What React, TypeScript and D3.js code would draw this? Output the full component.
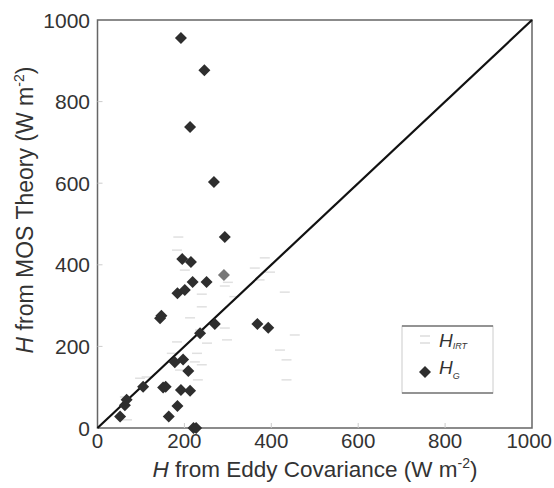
import React from "react";
import * as d3 from "d3";

const ticks = [0, 200, 400, 600, 800, 1000];

// H_G (diamonds): [eddy covariance, MOS theory]
const hgX = [192, 246, 213, 268, 293, 195, 215, 219, 251, 184, 201, 144, 147, 236, 270, 368, 393, 178, 197, 209, 151, 157, 192, 213, 184, 164, 221, 227, 52, 63, 67, 105];
const hgY = [956, 877, 738, 603, 468, 414, 407, 358, 358, 330, 338, 269, 275, 232, 255, 255, 246, 161, 168, 140, 99, 101, 93, 91, 54, 28, 0, 0, 28, 56, 69, 101];
// highlighted (gray) H_G point
const hgGrayX = [291];
const hgGrayY = [375];

// H_IRT (faint dashes)
const irtX = [186, 183, 201, 240, 240, 213, 293, 385, 362, 397, 373, 431, 236, 293, 298, 252, 183, 171, 229, 224, 240, 190, 231, 113, 98, 63, 68, 454, 435, 435, 420, 300, 315];
const irtY = [468, 436, 387, 328, 297, 270, 348, 417, 392, 382, 363, 333, 240, 245, 216, 208, 211, 183, 183, 162, 155, 142, 118, 125, 122, 76, 20, 228, 167, 118, 191, 357, 322];

const W = 554;
const H = 488;
const L = 97.5, R = 532, T = 20, B = 428;

export default function App() {
  const x = d3.scaleLinear().domain([0, 1000]).range([L, R]);
  const y = d3.scaleLinear().domain([0, 1000]).range([B, T]);
  const diamond = (cx: number, cy: number, s = 6) =>
    `M${cx},${cy - s}L${cx + s},${cy}L${cx},${cy + s}L${cx - s},${cy}Z`;
  const font = "Liberation Sans, Arial, sans-serif";

  return (
    <svg width={W} height={H} style={{ position: "absolute", left: 0, top: 0, background: "#fff" }}>
      <rect x={0} y={0} width={W} height={H} fill="#fff" />
      {/* H_IRT faint dashes */}
      {irtX.map((v, i) => (
        <line key={"i" + i} x1={x(v) - 5} x2={x(v) + 5} y1={y(irtY[i])} y2={y(irtY[i])} stroke="#e0e0e0" strokeWidth={1.5} />
      ))}
      {/* axes box */}
      <path d={`M${L},${T}L${R},${T}L${R},${B}L${L},${B}Z`} fill="none" stroke="#666" strokeWidth={1.5} />
      {/* inner ticks */}
      {ticks.slice(1, -1).map((t) => (
        <g key={"t" + t}>
          <line x1={L} x2={L + 5} y1={y(t)} y2={y(t)} stroke="#ccc" strokeWidth={1} />
          <line x1={x(t)} x2={x(t)} y1={B} y2={B - 5} stroke="#ccc" strokeWidth={1} />
        </g>
      ))}
      {/* 1:1 line */}
      <line x1={x(0)} y1={y(0)} x2={x(1000)} y2={y(1000)} stroke="#111" strokeWidth={2.2} />
      {/* H_G diamonds */}
      {hgX.map((v, i) => (
        <path key={"g" + i} d={diamond(x(v), y(hgY[i]))} fill="#2e2e2e" />
      ))}
      {hgGrayX.map((v, i) => (
        <path key={"gg" + i} d={diamond(x(v), y(hgGrayY[i]))} fill="#777" />
      ))}
      {/* tick labels */}
      {ticks.map((t) => (
        <text key={"yl" + t} x={90} y={y(t) + 7.5} textAnchor="end" fontFamily={font} fontSize={21} fill="#333">
          {t}
        </text>
      ))}
      {ticks.map((t) => (
        <text key={"xl" + t} x={t === 1000 ? 552 : x(t)} y={448} textAnchor={t === 1000 ? "end" : "middle"} fontFamily={font} fontSize={20.5} fill="#333">
          {t}
        </text>
      ))}
      {/* axis titles */}
      <text x={315} y={477} textAnchor="middle" fontFamily={font} fontSize={22.5} fill="#333">
        <tspan fontStyle="italic">H</tspan> from Eddy Covariance (W m
        <tspan dy={-9} fontSize={14}>-2</tspan>
        <tspan dy={9}>)</tspan>
      </text>
      <text transform={`translate(33,210) rotate(-90)`} textAnchor="middle" fontFamily={font} fontSize={23} fill="#333">
        <tspan fontStyle="italic">H</tspan> from MOS Theory (W m
        <tspan dy={-9} fontSize={14}>-2</tspan>
        <tspan dy={9}>)</tspan>
      </text>
      {/* legend */}
      <rect x={402} y={326} width={91} height={67} fill="#fff" stroke="#ccc" strokeWidth={1} />
      <line x1={402} x2={493} y1={326} y2={326} stroke="#777" strokeWidth={1.5} />
      <line x1={402} x2={493} y1={393} y2={393} stroke="#777" strokeWidth={1.5} />
      <line x1={420} x2={430} y1={336} y2={336} stroke="#dcdcdc" strokeWidth={1.5} />
      <line x1={420} x2={430} y1={343} y2={343} stroke="#dcdcdc" strokeWidth={1.5} />
      <text x={439} y={347} fontFamily={font} fontSize={19} fontStyle="italic" fill="#333">
        H<tspan dy={2} fontSize={9}>IRT</tspan>
      </text>
      <path d={diamond(425, 372, 6)} fill="#2e2e2e" />
      <text x={439} y={374} fontFamily={font} fontSize={19} fontStyle="italic" fill="#333">
        H<tspan dy={5} fontSize={9}>G</tspan>
      </text>
    </svg>
  );
}
